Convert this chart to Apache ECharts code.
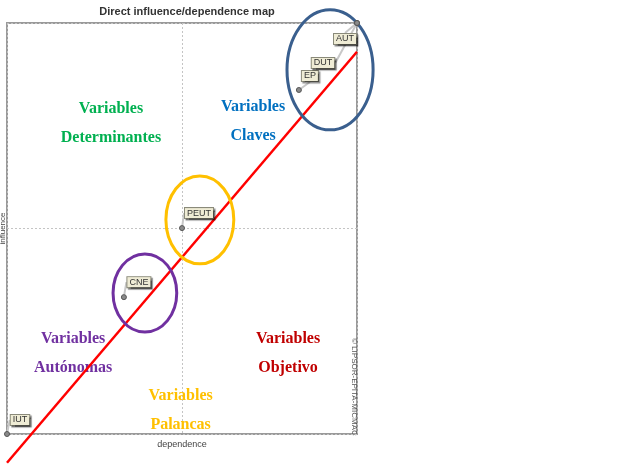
<!DOCTYPE html>
<html><head><meta charset="utf-8">
<script src="https://cdn.jsdelivr.net/npm/echarts@6/dist/echarts.min.js"></script>
<style>html,body{margin:0;padding:0;background:#fff}#c{width:633px;height:476px}</style>
</head><body><div id="c"></div>
<script>
// Variables (dependence, influence)
const varNames = ['IUT', 'CNE', 'PEUT', 'EP', 'DUT', 'AUT'];
const dependence = [0, 33.4, 50, 83.4, 100, 100];
const influence = [0, 33.3, 50.1, 83.7, 100, 100];
const labelOffsets = [[13, -14], [15, -15], [17, -15], [11, -14], [-34, 40], [-12, 16]];

// Trend line (red)
const trendX = [0, 100];
const trendY = [-7, 93];

// Group ellipses: center x, center y, radius x, radius y (data units)
const ellipseCx = [92.3, 55.1, 39.4];
const ellipseCy = [88.6, 52.1, 34.3];
const ellipseRx = [12.3, 9.7, 9.1];
const ellipseRy = [14.6, 10.7, 9.5];
const ellipseColors = ['#3A5F8E', '#FFC000', '#7030A0'];

// Quadrant captions
const zoneTexts = ['Variables\nDeterminantes', 'Variables\nClaves', 'Variables\nAutónomas', 'Variables\nObjetivo', 'Variables\nPalancas'];
const zoneX = [29.7, 70.3, 18.9, 80.3, 49.6];
const zoneY = [75.7, 76.0, 19.7, 19.7, 5.8];
const zoneColors = ['#00B050', '#0070C0', '#7030A0', '#C00000', '#FFC000'];

const chart = echarts.init(document.getElementById('c'), null, {renderer: 'canvas'});

const option = {
  animation: false,
  title: {
    text: 'Direct influence/dependence map',
    left: 182, top: 1, textAlign: 'center',
    textStyle: {fontFamily: "'Liberation Sans Narrow','Arial Narrow',sans-serif", fontSize: 11, fontWeight: 'bold', color: '#333'}
  },
  grid: {left: 7, top: 23, width: 350, height: 411, show: true, borderColor: '#9a9a9a', borderWidth: 2,
    backgroundColor: '#fff', containLabel: false, outerBoundsMode: 'none'},
  xAxis: {
    type: 'value', min: 0, max: 100, interval: 50,
    name: 'dependence', nameLocation: 'middle', nameGap: 6,
    nameTextStyle: {fontFamily: "'Liberation Sans Narrow',sans-serif", fontSize: 9, color: '#444'},
    axisLine: {show: false}, axisTick: {show: false}, axisLabel: {show: false},
    splitLine: {show: true, lineStyle: {color: '#c4c4c4', type: [2, 2], width: 1}}
  },
  yAxis: {
    type: 'value', min: 0, max: 100, interval: 50,
    name: 'influence', nameLocation: 'middle', nameGap: 0,
    nameTextStyle: {fontFamily: "'Liberation Sans Narrow',sans-serif", fontSize: 8, color: '#444'},
    axisLine: {show: false}, axisTick: {show: false}, axisLabel: {show: false},
    splitLine: {show: true, lineStyle: {color: '#c4c4c4', type: [2, 2], width: 1}}
  },
  graphic: [{
    type: 'text', x: 358, y: 338, rotation: -Math.PI / 2,
    style: {text: '© LIPSOR-EPITA-MICMAC', fontSize: 8, fontFamily: "'Liberation Sans Narrow',sans-serif", fill: '#555'}
  }],
  series: [
    {
      type: 'scatter', z: 5,
      data: zoneTexts.map((t, i) => ({value: [zoneX[i], zoneY[i]], name: t,
        label: {color: zoneColors[i]}})),
      symbolSize: 0,
      itemStyle: {opacity: 1},
      label: {show: true, position: 'inside', formatter: p => p.name, align: 'center', verticalAlign: 'middle', opacity: 1,
        fontFamily: "'Liberation Serif','Times New Roman',serif", fontSize: 16, fontWeight: 'bold', lineHeight: 29},
      silent: true
    },
    {
      type: 'line', z: 6, clip: false, symbol: 'none',
      data: trendX.map((x, i) => [x, trendY[i]]),
      lineStyle: {color: '#FF0000', width: 2.5}
    },
    {
      type: 'custom', z: 7, clip: false,
      data: ellipseCx.map((x, i) => [x, ellipseCy[i], ellipseRx[i], ellipseRy[i]]),
      renderItem: function (params, api) {
        const c = api.coord([api.value(0), api.value(1)]);
        const s = api.size([api.value(2), api.value(3)]);
        return {type: 'ellipse', shape: {cx: c[0], cy: c[1], rx: s[0], ry: s[1]},
          style: {fill: 'none', stroke: ellipseColors[params.dataIndex], lineWidth: 3}};
      }
    },
    {
      type: 'scatter', z: 8,
      data: varNames.map((n, i) => ({value: [dependence[i], influence[i]], name: n})),
      symbol: 'circle', symbolSize: 5,
      itemStyle: {color: '#8a8a8a', borderColor: '#555', borderWidth: 1, opacity: 1},
      label: {
        show: true, position: 'inside', formatter: p => p.name,
        fontFamily: "'Liberation Sans Narrow','Arial Narrow',sans-serif", fontSize: 9, color: '#333',
        backgroundColor: '#efecd5', borderColor: '#8a8a7a', borderWidth: 1,
        padding: [1, 2, 0, 2], shadowColor: 'rgba(0,0,0,0.45)', shadowOffsetX: 1.5, shadowOffsetY: 1.5, shadowBlur: 1
      },
      labelLine: {show: true, lineStyle: {color: '#c8c8c8', width: 2}},
      labelLayout: function (p) {
        const o = labelOffsets[p.dataIndex];
        return {dx: o[0], dy: o[1]};
      }
    }
  ]
};
chart.setOption(option);
</script></body></html>
